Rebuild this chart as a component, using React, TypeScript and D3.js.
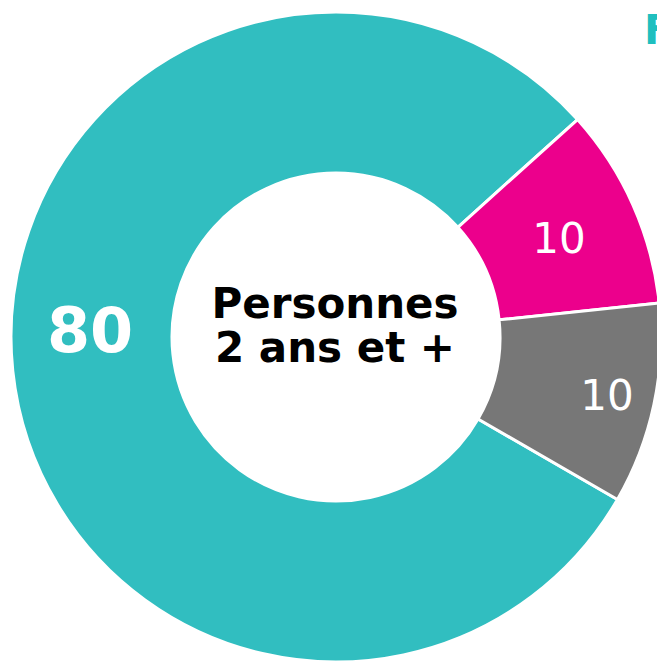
import React from "react";
import * as d3 from "d3";

const categories = ["Teal", "Magenta", "Gris"];
const values = [80, 10, 10];
const labels = ["80", "10", "10"];
const colors = ["#31BEC0", "#EC008C", "#777777"];
const centerLines = ["Personnes", "2 ans et +"];
const legendTitle = "Femmes";

export default function App() {
  const W = 657;
  const H = 662;
  const cx = 336;
  const cy = 337;
  const outerR = 325;
  const innerR = 164;

  const pie = d3
    .pie<number>()
    .sort(null)
    .value((d) => d)
    .startAngle((120 * Math.PI) / 180)
    .endAngle((120 * Math.PI) / 180 + 2 * Math.PI);
  const arcs = pie(values);
  const arc = d3.arc<d3.PieArcDatum<number>>().innerRadius(innerR).outerRadius(outerR);
  const labelR = [246, 244, 277];
  const labelShift = [(7.6 * Math.PI) / 180, 0, 0];
  const fonts = [
    { size: 62, weight: "bold" },
    { size: 42, weight: "normal" },
    { size: 42, weight: "normal" },
  ];

  return (
    <svg
      width={W}
      height={H}
      style={{ position: "absolute", left: 0, top: 0, overflow: "hidden" }}
      fontFamily="'DejaVu Sans', Verdana, sans-serif"
    >
      <rect width={W} height={H} fill="#ffffff" />
      <g transform={`translate(${cx},${cy})`}>
        {arcs.map((a, i) => (
          <path key={categories[i]} d={arc(a) || ""} fill={colors[i]} stroke="#ffffff" strokeWidth={3} />
        ))}
        {arcs.map((a, i) => {
          const mid = (a.startAngle + a.endAngle) / 2 + labelShift[i];
          const x = Math.sin(mid) * labelR[i];
          const y = -Math.cos(mid) * labelR[i];
          return (
            <text
              key={"l" + i}
              x={x}
              y={y}
              dy="0.36em"
              textAnchor="middle"
              fill="#ffffff"
              fontSize={fonts[i].size}
              fontWeight={fonts[i].weight}
            >
              {labels[i]}
            </text>
          );
        })}
        {centerLines.map((t, i) => (
          <text
            key={"c" + i}
            x={-1}
            y={-19 + i * 44}
            textAnchor="middle"
            fill="#000000"
            fontSize={42}
            fontWeight="bold"
          >
            {t}
          </text>
        ))}
      </g>
      <text x={644} y={44} fill="#1FBFBF" fontSize={41} fontWeight="bold">
        {legendTitle}
      </text>
    </svg>
  );
}
